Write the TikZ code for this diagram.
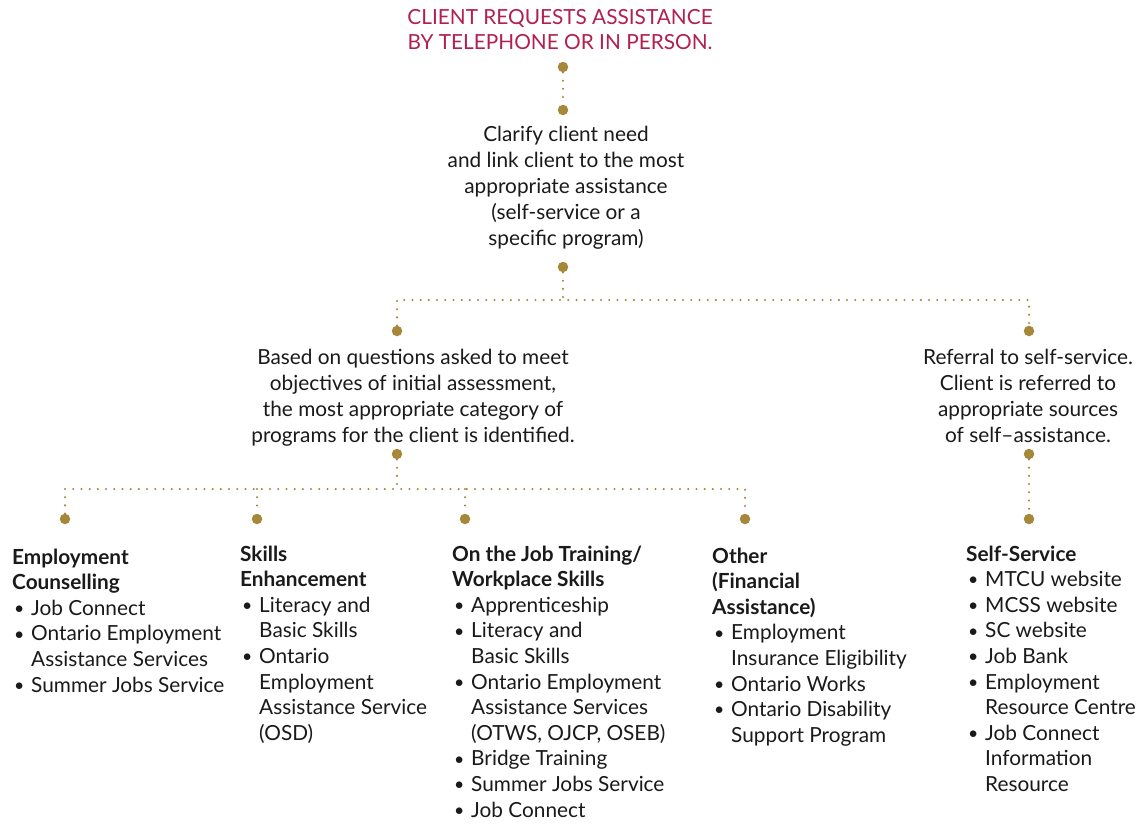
\documentclass[tikz,border=0pt]{standalone}
\usepackage{fontspec}
\setmainfont{Lato}
\definecolor{gold}{HTML}{A6883A}
\definecolor{crim}{HTML}{B2204F}
\definecolor{ink}{HTML}{1A1A1A}
\newcommand{\bi}[1]{\hspace*{2pt}\makebox[17pt][l]{\raisebox{0.8pt}{\scalebox{0.85}{•}}}#1}
\newcommand{\ci}{\hspace*{19pt}}
\tikzset{
  bigdot/.style={circle,fill=gold,inner sep=0pt,minimum size=10.5pt},
  dotline/.style={gold,line width=2.3pt,line cap=round,dash pattern=on 0pt off 8.2pt},
  txt/.style={inner sep=0pt,text=ink,font=\fontsize{20.8}{25.6}\selectfont},
  ctxt/.style={inner sep=0pt,text=ink,font=\fontsize{20.8}{26}\selectfont,align=center,anchor=base},
  ltxt/.style={txt,align=left,anchor=base west},
  ttl/.style={inner sep=0pt,text=crim,align=center,anchor=base,font=\fontsize{20.8}{25}\selectfont}
}
\begin{document}
\begin{tikzpicture}[x=1pt,y=-1pt]
\useasboundingbox[fill=white] (0,0) rectangle (1147,823);
% texts (anchor = baseline of last line)
\node[ttl] (title) at (560,49) {CLIENT REQUESTS ASSISTANCE\\BY TELEPHONE OR IN PERSON.};
\node[ctxt] (clarify) at (566,245) {Clarify client need\\and link client to the most\\appropriate assistance\\(self-service or a\\specific program)};
\node[ctxt] (based) at (413,442) {Based on questions asked to meet\\objectives of initial assessment,\\the most appropriate category of\\programs for the client is identified.};
\node[ctxt] (referral) at (1028,442) {Referral to self-service.\\Client is referred to\\appropriate sources\\of self–assistance.};
\node[ltxt] (emp) at (12,692) {\textbf{Employment}\\\textbf{Counselling}\\\bi{Job Connect}\\\bi{Ontario Employment}\\\ci Assistance Services\\\bi{Summer Jobs Service}};
\node[ltxt] (skills) at (240,740.2) {\textbf{Skills}\\\textbf{Enhancement}\\\bi{Literacy and}\\\ci Basic Skills\\\bi{Ontario}\\\ci Employment\\\ci Assistance Service\\\ci (OSD)};
\node[ltxt] (otj) at (452,817) {\textbf{On the Job Training/}\\\textbf{Workplace Skills}\\\bi{Apprenticeship}\\\bi{Literacy and}\\\ci Basic Skills\\\bi{Ontario Employment}\\\ci Assistance Services\\\ci (OTWS, OJCP, OSEB)\\\bi{Bridge Training}\\\bi{Summer Jobs Service}\\\bi{Job Connect}};
\node[ltxt] (other) at (712,742.2) {\textbf{Other}\\\textbf{(Financial}\\\textbf{Assistance)}\\\bi{Employment}\\\ci Insurance Eligibility\\\bi{Ontario Works}\\\bi{Ontario Disability}\\\ci Support Program};
\node[ltxt] (self) at (966,791.4) {\textbf{Self-Service}\\\bi{MTCU website}\\\bi{MCSS website}\\\bi{SC website}\\\bi{Job Bank}\\\bi{Employment}\\\ci Resource Centre\\\bi{Job Connect}\\\ci Information\\\ci Resource};
% dots
\node[bigdot] (d1) at (563,67) {};
\node[bigdot] (d2) at (563,110) {};
\node[bigdot] (d3) at (563,267) {};
\node[bigdot] (d4) at (397,331) {};
\node[bigdot] (d5) at (1029,331) {};
\node[bigdot] (d6) at (397,454) {};
\node[bigdot] (d7) at (1029,454) {};
\node[bigdot] (e1) at (65,519) {};
\node[bigdot] (e2) at (257,519) {};
\node[bigdot] (e3) at (465,519) {};
\node[bigdot] (e4) at (745,519) {};
\node[bigdot] (e5) at (1029,519) {};
\coordinate (j1) at (563,300);
\coordinate (hl) at (397,300);
\coordinate (hr) at (1029,300);
\coordinate (j2) at (397,489);
\coordinate (gl) at (65,489);
\coordinate (g2) at (257,489);
\coordinate (g3) at (465,489);
\coordinate (gr) at (745,489);
% connectors
\draw[dotline] (d1) -- (d2);
\draw[dotline] (d3) -- (j1);
\draw[dotline] (d4) -- (hl) -- (hr) -- (d5);
\draw[dotline] (d6) -- (j2);
\draw[dotline] (e1) -- (gl) -- (gr) -- (e4);
\draw[dotline] (g2) -- (e2);
\draw[dotline] (g3) -- (e3);
\draw[dotline] (d7) -- (e5);
\end{tikzpicture}
\end{document}
